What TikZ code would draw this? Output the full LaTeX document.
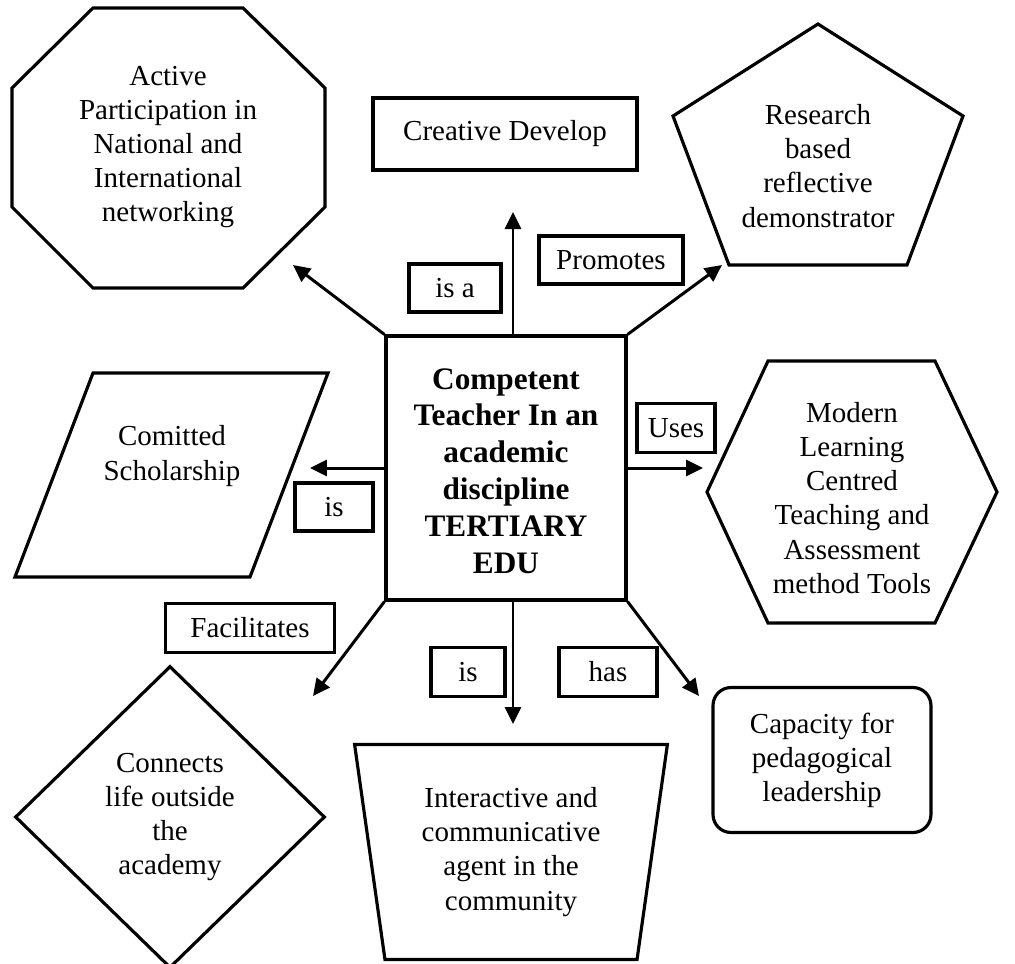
\documentclass[tikz,border=0pt]{standalone}
\usepackage{fontspec}
\setmainfont{Liberation Serif}
\usetikzlibrary{arrows.meta,shapes.geometric}

\begin{document}
\begin{tikzpicture}[x=0.02cm,y=-0.02cm,
    txt/.style={font=\fontsize{16.5}{19.4}\selectfont,align=center},
    lbl/.style={txt,draw,line width=1.8pt,inner sep=0pt},
    shp/.style={line width=1.8pt,line join=miter},
    arr/.style={-{Triangle[length=0.34cm,width=0.32cm]},line width=1.7pt}]
      \useasboundingbox (0,0) rectangle (1015,964);

      \draw (506,468) node[lbl,minimum width=4.8cm,minimum height=5.28cm,
        font=\bfseries\fontsize{17.8}{21}\selectfont](core)
        {\\[-0.2cm]Competent\\Teacher In an\\academic\\discipline\\TERTIARY\\EDU};

      \draw (168,147) node[txt](netw) {Active\\Participation in\\National and\\International\\networking};
      \draw[shp] (93,8) -- (243,8) -- (325,88) -- (325,207) -- (243,288)
        -- (93,288) -- (12,207) -- (12,88) -- cycle;

      \draw (505,134) node[lbl,minimum width=5.28cm,minimum height=1.44cm](creat) {Creative Develop};

      \draw (818,166) node[txt](resrch) {Research\\based\\reflective\\demonstrator};
      \draw[shp] (818,24) -- (963,116) -- (907,265) -- (729,265) -- (673,116) -- cycle;

      \draw (172,456) node[txt](schol) {Comitted\\Scholarship};
      \draw[shp] (93,373) -- (328,373) -- (250,577) -- (15,577) -- cycle;

      \draw (852,498) node[txt](modern) {Modern\\Learning\\Centred\\Teaching and\\Assessment\\method Tools};
      \draw[shp] (768,361) -- (935,361) -- (997,492) -- (935,623) -- (768,623) -- (707,492) -- cycle;

      \draw (170,817) node[txt,diamond,draw,line width=1.8pt,inner sep=0pt,
        minimum width=6.2cm,minimum height=6.04cm](conn) {Connects\\life outside\\the\\academy};

      \draw (511,852) node[txt,trapezium,draw,line width=1.8pt,inner sep=0pt,
        trapezium left angle=99.5,trapezium right angle=99.5,trapezium stretches=true,
        minimum width=6.26cm,minimum height=4.3cm](agent)
        {Interactive and\\communicative\\agent in the\\community};

      \draw (822,760) node[lbl,rounded corners=0.36cm,minimum width=4.36cm,
        minimum height=2.9cm](capac) {Capacity for\\pedagogical\\leadership};

      \draw (455,288) node[lbl,minimum width=1.84cm,minimum height=0.96cm](isa) {is a};
      \draw (611,260) node[lbl,minimum width=2.88cm,minimum height=0.96cm](prom) {Promotes};
      \draw (676,428) node[lbl,minimum width=1.56cm,minimum height=0.98cm](uses) {Uses};
      \draw (334,507) node[lbl,minimum width=1.56cm,minimum height=0.96cm](isl) {is};
      \draw (250,628) node[lbl,minimum width=3.38cm,minimum height=0.98cm](facil) {Facilitates};
      \draw (468,672) node[lbl,minimum width=1.48cm,minimum height=0.98cm](isd) {is};
      \draw (608,672) node[lbl,minimum width=1.96cm,minimum height=0.98cm](has) {has};

      \coordinate (toNetw) at (293,265);
      \coordinate (toCreat) at (513,212);
      \coordinate (toResrch) at (722,265);
      \coordinate (toSchol) at (310,468);
      \coordinate (toModern) at (703,468);
      \coordinate (toConn) at (313,696);
      \coordinate (toAgent) at (513,724);
      \coordinate (toCapac) at (699,696);

      \draw (core.north west) edge[arr] (toNetw);
      \draw (core.north -| toCreat) edge[arr] (toCreat);
      \draw (core.north east) edge[arr] (toResrch);
      \draw (core.west) edge[arr] (toSchol);
      \draw (core.east) edge[arr] (toModern);
      \draw (core.south west) edge[arr] (toConn);
      \draw (core.south -| toAgent) edge[arr] (toAgent);
      \draw (core.south east) edge[arr] (toCapac);
    \end{tikzpicture}
\end{document}
